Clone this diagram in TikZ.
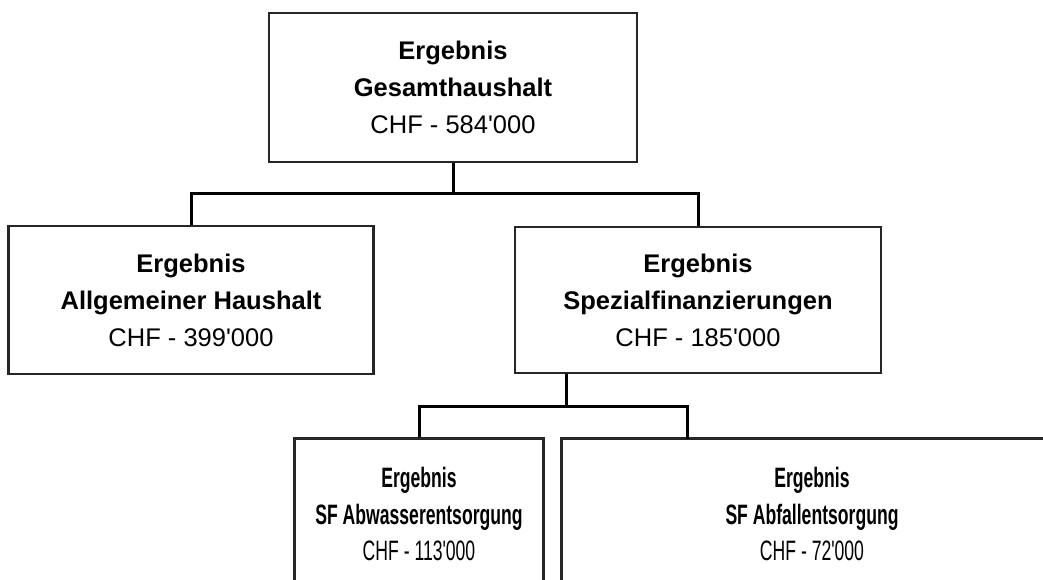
\documentclass[tikz,border=0pt]{standalone}
\usepackage{fontspec}
\setmainfont{Liberation Sans}[Ligatures=TeXOff]
\newcommand{\ap}{\symbol{39}}
\begin{document}
\begin{tikzpicture}[x=1pt,y=-1pt,
  box/.style={draw=black!85, line width=2.8pt, rectangle, inner sep=0pt, align=center,
    font=\fontsize{25.5}{37}\selectfont},
  narrow/.style={transform shape, xscale=0.69, yscale=1.1,
    font=\fontsize{25.5}{33.5}\selectfont},
  conn/.style={draw=black, line width=3pt}]
\useasboundingbox (0,0) rectangle (1043,579);
\clip (0,0) rectangle (1043,579);
\node[box, minimum width=368pt, minimum height=149pt] (top) at (453,87.5)
  {\textbf{Ergebnis}\\\textbf{Gesamthaushalt}\\CHF - 584\ap000};
\node[box, minimum width=365pt, minimum height=148pt] (left) at (191,300)
  {\textbf{Ergebnis}\\\textbf{Allgemeiner Haushalt}\\CHF - 399\ap000};
\node[box, minimum width=366pt, minimum height=146pt] (spez) at (698,300)
  {\textbf{Ergebnis}\\\textbf{Spezialfinanzierungen}\\CHF - 185\ap000};
\node[box, narrow, minimum width=362pt, minimum height=137pt] (bl) at (419,514)
  {\textbf{Ergebnis}\\\textbf{SF Abwasserentsorgung}\\CHF - 113\ap000};
\node[box, narrow, minimum width=725pt, minimum height=137pt] (br) at (812,514)
  {\textbf{Ergebnis}\\\textbf{SF Abfallentsorgung}\\CHF - 72\ap000};
\coordinate (j1) at (453,193);
\coordinate (j2) at (566,406);
\coordinate (brc) at (687,439);
\draw[conn] (top.south) -- (j1);
\draw[conn] (j1) -| (left.north);
\draw[conn] (j1) -| (spez.north);
\draw[conn] (j2 |- spez.south) -- (j2);
\draw[conn] (j2) -| (bl.north);
\draw[conn] (j2) -| (brc);
\end{tikzpicture}
\end{document}
